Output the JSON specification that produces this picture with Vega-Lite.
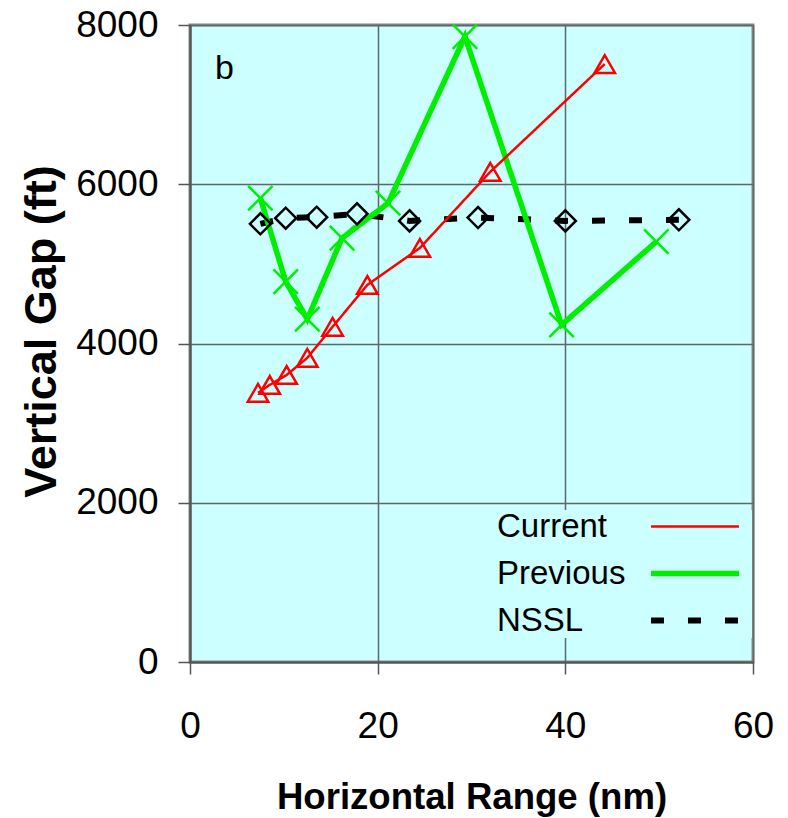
{
  "$schema": "https://vega.github.io/schema/vega-lite/v6.json",
  "width": 563,
  "height": 637,
  "autosize": "none",
  "padding": {"left": 190, "top": 25, "right": 35, "bottom": 156},
  "background": "white",
  "config": {
    "font": "Liberation Sans",
    "view": {"fill": "#CCFFFF", "stroke": "#888888", "strokeWidth": 3}
  },
  "data": {
    "values": [
      {"series": "NSSL", "range": 7.5, "gap": 5503},
      {"series": "NSSL", "range": 10.2, "gap": 5574},
      {"series": "NSSL", "range": 13.5, "gap": 5587},
      {"series": "NSSL", "range": 17.8, "gap": 5628},
      {"series": "NSSL", "range": 23.4, "gap": 5540},
      {"series": "NSSL", "range": 30.7, "gap": 5582},
      {"series": "NSSL", "range": 40.0, "gap": 5540},
      {"series": "NSSL", "range": 52.1, "gap": 5553},
      {"series": "Previous", "range": 7.5, "gap": 5825},
      {"series": "Previous", "range": 10.2, "gap": 4778},
      {"series": "Previous", "range": 12.5, "gap": 4305},
      {"series": "Previous", "range": 16.2, "gap": 5323},
      {"series": "Previous", "range": 21.1, "gap": 5762},
      {"series": "Previous", "range": 29.3, "gap": 7855},
      {"series": "Previous", "range": 39.6, "gap": 4234},
      {"series": "Previous", "range": 49.7, "gap": 5280},
      {"series": "Current", "range": 7.25, "gap": 3380},
      {"series": "Current", "range": 8.5, "gap": 3480},
      {"series": "Current", "range": 10.3, "gap": 3605},
      {"series": "Current", "range": 12.5, "gap": 3820},
      {"series": "Current", "range": 15.2, "gap": 4210},
      {"series": "Current", "range": 18.9, "gap": 4736},
      {"series": "Current", "range": 24.5, "gap": 5200},
      {"series": "Current", "range": 32.0, "gap": 6156},
      {"series": "Current", "range": 44.2, "gap": 7510}
    ]
  },
  "layer": [
    {
      "mark": {"type": "line"},
      "encoding": {
        "x": {
          "field": "range", "type": "quantitative",
          "scale": {"domain": [0, 60], "nice": false},
          "axis": {
            "title": "Horizontal Range (nm)",
            "values": [0, 20, 40, 60],
            "grid": true, "gridColor": "#5a6a6a", "gridWidth": 1.5,
            "domainColor": "#555555", "domainWidth": 2,
            "tickColor": "#555555", "tickWidth": 1.5, "tickSize": 12,
            "labelFontSize": 37, "labelColor": "black", "labelBaseline": "alphabetic", "labelPadding": 63,
            "labelFlush": false, "labelOverlap": false,
            "titleFontSize": 36.6, "titleFontWeight": "bold", "titleColor": "black",
            "titleY": 146, "titleBaseline": "alphabetic"
          }
        },
        "y": {
          "field": "gap", "type": "quantitative",
          "scale": {"domain": [0, 8000], "nice": false},
          "axis": {
            "title": "Vertical Gap (ft)",
            "values": [0, 2000, 4000, 6000, 8000], "format": "d",
            "grid": true, "gridColor": "#5a6a6a", "gridWidth": 1.5,
            "domainColor": "#555555", "domainWidth": 2,
            "tickColor": "#555555", "tickWidth": 1.5, "tickSize": 12,
            "labelFontSize": 37, "labelColor": "black", "labelPadding": 20,
            "labelFlush": false, "labelOverlap": false,
            "titleFontSize": 45, "titleFontWeight": "bold", "titleColor": "black",
            "titleX": -149, "titleY": 306, "titleBaseline": "middle"
          }
        },
        "color": {
          "field": "series", "type": "nominal",
          "scale": {"domain": ["Current", "Previous", "NSSL"], "range": ["#FF0000", "#00EE00", "#000000"]},
          "legend": {
            "title": null, "orient": "none", "legendX": 307, "legendY": 485,
            "symbolType": "M-5,0L5,0", "symbolSize": 310, "symbolOffset": 181.5, "labelOffset": -214.5,
            "rowPadding": 13, "padding": 0,
            "fillColor": "#CCFFFF", "strokeColor": null,
            "labelFontSize": 33, "labelColor": "black", "labelLimit": 400,
            "encode": {
              "symbols": {"update": {
                "strokeWidth": {"signal": "(datum.value === 'Current' ? 2.5 : 5.5)"},
                "strokeDash": {"signal": "(datum.value === 'NSSL' ? [24, 18] : [1, 0])"}
              }}
            }
          }
        },
        "strokeDash": {
          "field": "series", "type": "nominal",
          "scale": {"domain": ["Current", "Previous", "NSSL"], "range": [[1, 0], [1, 0], [13, 24]]},
          "legend": null
        },
        "strokeWidth": {
          "field": "series", "type": "nominal",
          "scale": {"type": "ordinal", "domain": ["Current", "Previous", "NSSL"], "range": [2.5, 5.5, 6]},
          "legend": null
        }
      }
    },
    {
      "transform": [{"filter": "datum.series === 'NSSL'"}],
      "mark": {"type": "point", "filled": false, "strokeWidth": 2.5, "opacity": 1, "shape": "diamond", "size": 440, "stroke": "#000000"},
      "encoding": {
        "x": {"field": "range", "type": "quantitative"},
        "y": {"field": "gap", "type": "quantitative"}
      }
    },
    {
      "transform": [{"filter": "datum.series === 'Previous'"}],
      "mark": {"type": "point", "filled": false, "strokeWidth": 2.5, "opacity": 1, "shape": "M-1,-1L1,1M-1,1L1,-1", "size": 600, "stroke": "#00EE00"},
      "encoding": {
        "x": {"field": "range", "type": "quantitative"},
        "y": {"field": "gap", "type": "quantitative"}
      }
    },
    {
      "transform": [{"filter": "datum.series === 'Current'"}],
      "mark": {"type": "point", "filled": false, "strokeWidth": 2.5, "opacity": 1, "shape": "triangle-up", "size": 420, "stroke": "#FF0000"},
      "encoding": {
        "x": {"field": "range", "type": "quantitative"},
        "y": {"field": "gap", "type": "quantitative"}
      }
    },
    {
      "data": {"values": [{"label": "b", "range": 3.67, "gap": 7320}]},
      "mark": {"type": "text", "fontSize": 34, "fontWeight": 400, "baseline": "alphabetic", "align": "center", "fill": "black"},
      "encoding": {
        "x": {"field": "range", "type": "quantitative"},
        "y": {"field": "gap", "type": "quantitative"},
        "text": {"field": "label"}
      }
    }
  ]
}
